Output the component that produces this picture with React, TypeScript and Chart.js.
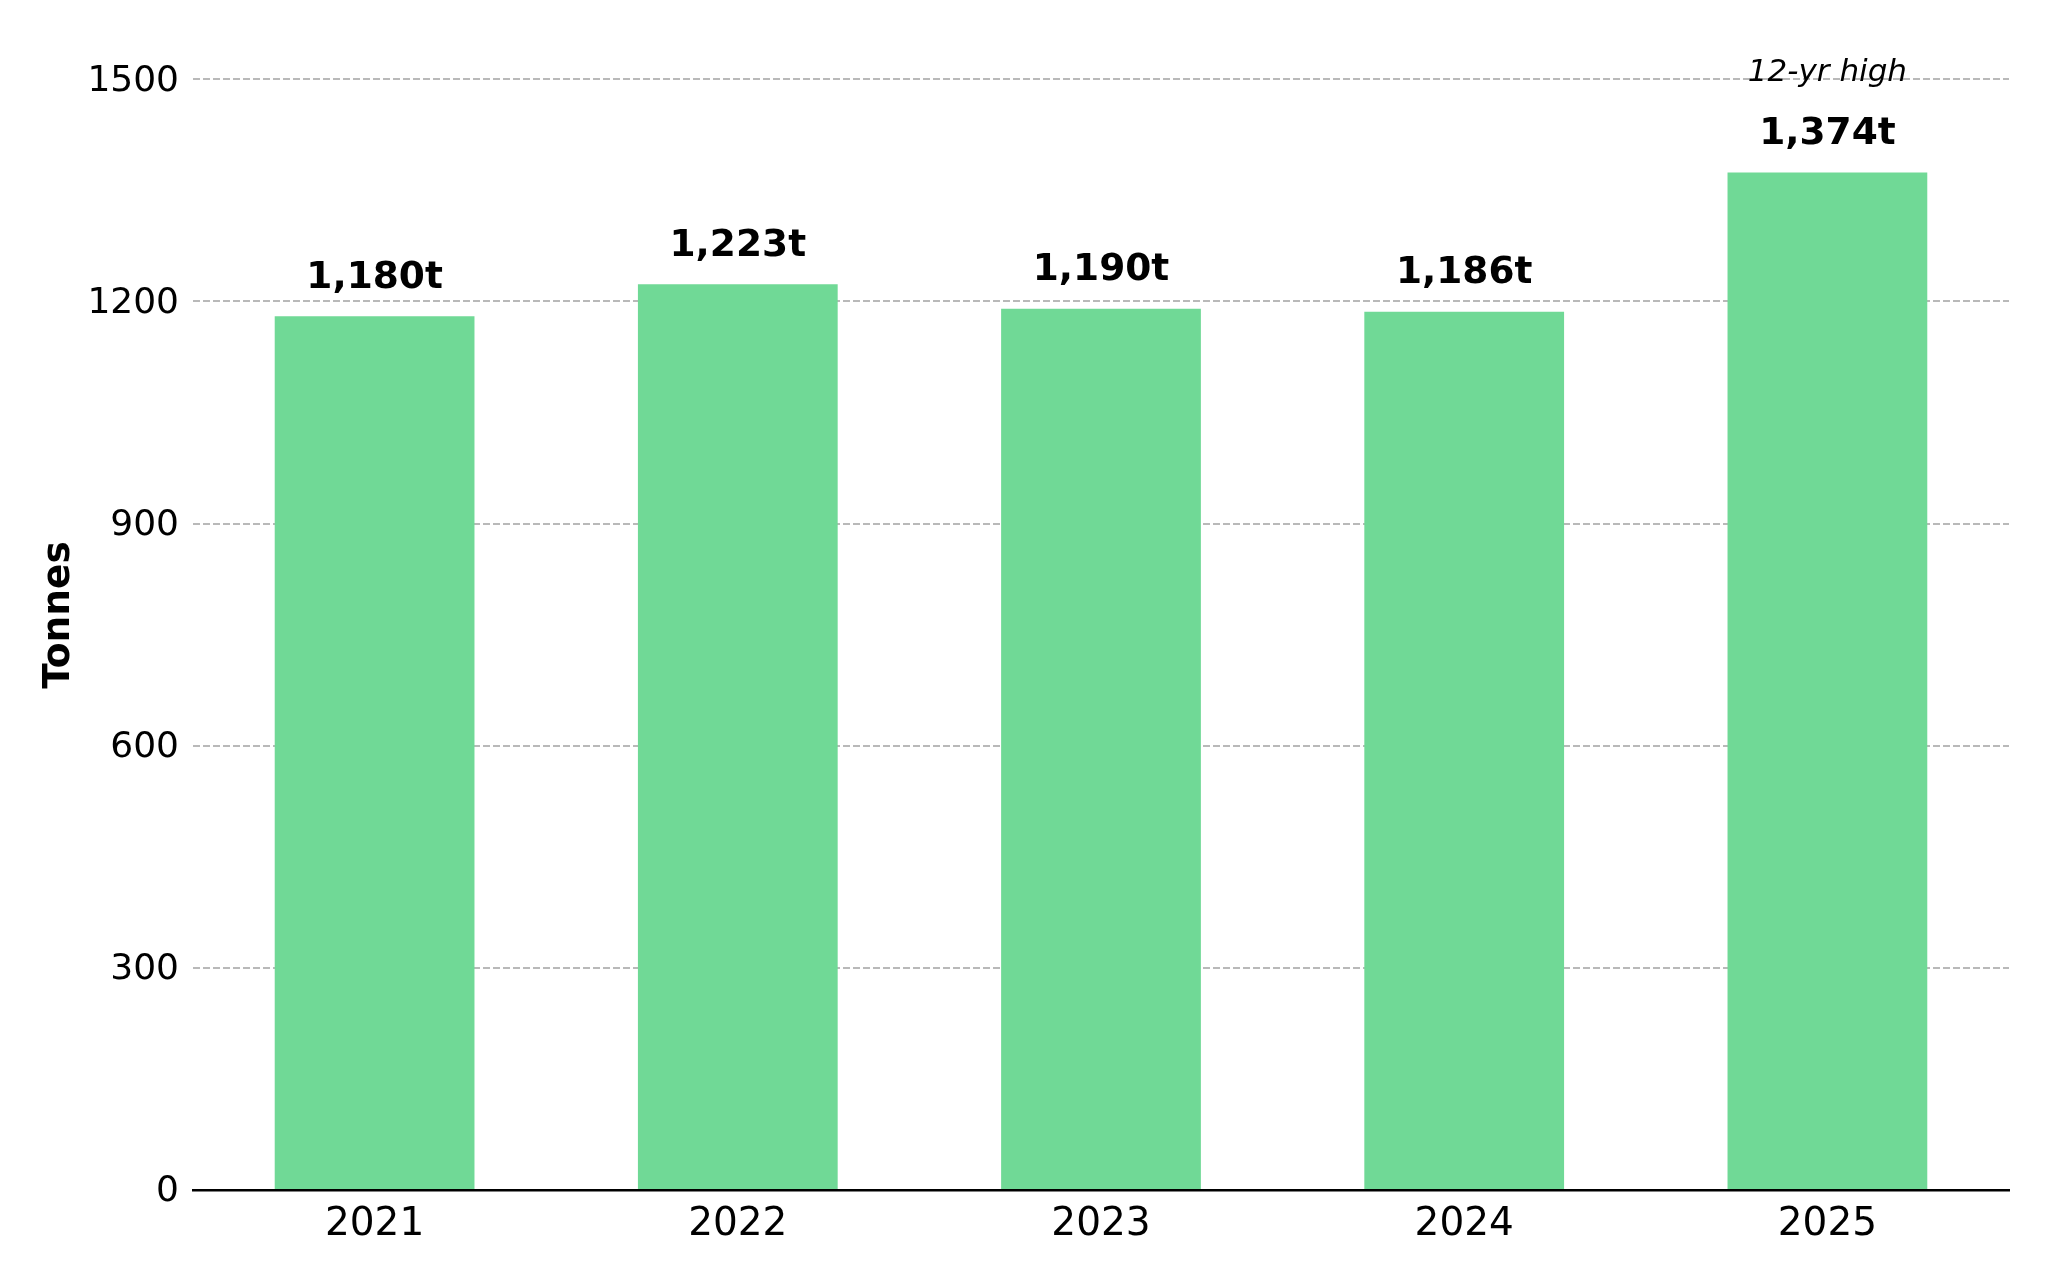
import { useEffect, useRef } from 'react'
import { Chart, registerables } from 'chart.js'
Chart.register(...registerables)

const FONT = '"DejaVu Sans", "Liberation Sans", sans-serif'

const YEARS = ['2021', '2022', '2023', '2024', '2025']
const TONNES = [1180, 1223, 1190, 1186, 1374]
const NOTES = ['', '', '', '', '12-yr high']
const Y_TICKS = [0, 300, 600, 900, 1200, 1500]
const Y_MAX = 1553

const BAR = '#70d996'

// value labels on top of each bar, plus the optional italic note above
const barLabels = {
  id: 'barLabels',
  afterDatasetsDraw(chart: Chart) {
    const { ctx } = chart
    const meta = chart.getDatasetMeta(0)
    ctx.save()
    ctx.fillStyle = '#000'
    ctx.textAlign = 'center'
    ctx.textBaseline = 'alphabetic'
    meta.data.forEach((bar: any, i: number) => {
      const y = bar.y - 28.5
      ctx.font = `bold 37.5px ${FONT}`
      ctx.fillText(TONNES[i].toLocaleString('en-US') + 't', bar.x, y)
      if (NOTES[i]) {
        ctx.font = `italic 31px ${FONT}`
        ctx.fillText(NOTES[i], bar.x, y - 63.5)
      }
    })
    ctx.restore()
  },
}

export default function App() {
  const ref = useRef<HTMLCanvasElement>(null)
  const inst = useRef<Chart | null>(null)

  useEffect(() => {
    document.body.style.margin = '0'
    if (!ref.current) return
    inst.current?.destroy()
    inst.current = new Chart(ref.current, {
      type: 'bar',
      data: {
        labels: YEARS,
        datasets: [{
          data: TONNES,
          backgroundColor: BAR,
          borderWidth: 0,
          barPercentage: 0.55,
          categoryPercentage: 1,
        }],
      },
      options: {
        responsive: false,
        devicePixelRatio: 1,
        animation: false,
        layout: { padding: { top: 40, right: 39, bottom: 0, left: 0 } },
        plugins: { legend: { display: false }, tooltip: { enabled: false } },
        scales: {
          x: {
            grid: { display: false, drawTicks: false },
            border: { display: true, color: '#000', width: 2.5 },
            ticks: { color: '#000', font: { family: FONT, size: 39 }, padding: 11, maxRotation: 0, autoSkip: false },
            afterFit: (s: any) => { s.height = 90 },
          },
          y: {
            min: 0,
            max: Y_MAX,
            afterBuildTicks: (s: any) => { s.ticks = Y_TICKS.map(v => ({ value: v })) },
            afterFit: (s: any) => { s.width = 193 },
            grid: { color: '#b9b9b9', lineWidth: 2, drawTicks: false },
            border: { display: false, dash: [7, 3] },
            ticks: {
              color: '#000',
              font: { family: FONT, size: 36 },
              padding: 14,
              labelOffset: 2,
              callback: (v: any) => String(v),
            },
            title: {
              display: true,
              text: 'Tonnes',
              color: '#000',
              font: { family: FONT, size: 37.5, weight: 'bold', lineHeight: 1.2 },
              padding: { top: 37, bottom: 0 },
            },
          },
        },
      },
      plugins: [barLabels],
    } as any)
    return () => inst.current?.destroy()
  }, [])

  return (
    <div style={{ position: 'absolute', left: 0, top: 0, width: 2048, height: 1280, background: '#fff' }}>
      <canvas ref={ref} width={2048} height={1280} style={{ display: 'block' }} />
    </div>
  )
}
